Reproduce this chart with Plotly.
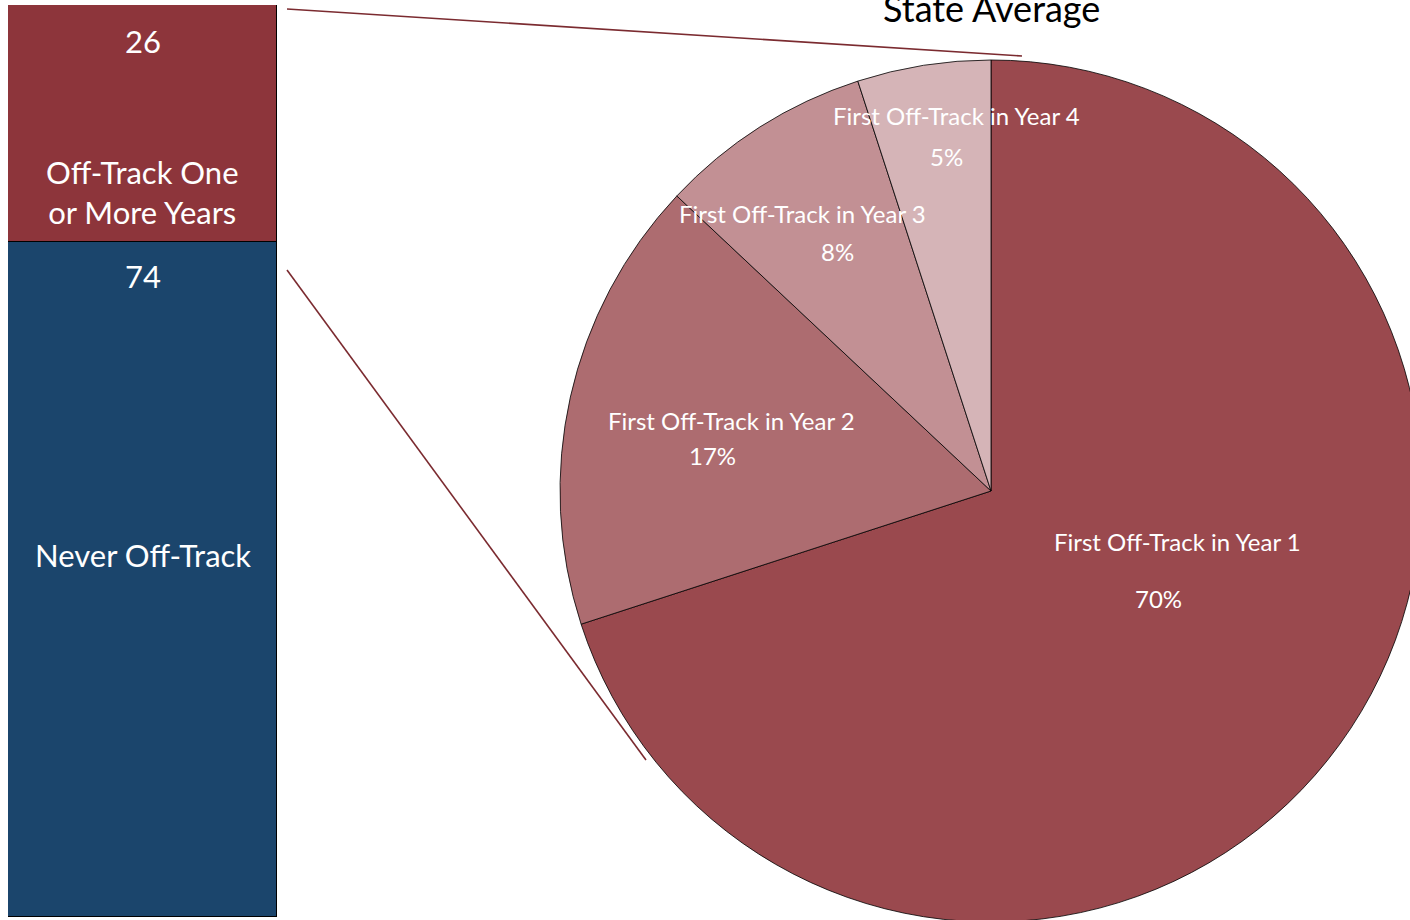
import plotly.graph_objects as go

# Share of students by off-track status (stacked bar, percent)
status_labels = ["Never Off-Track", "Off-Track One<br>or More Years"]
status_values = [74, 26]

# Breakdown of off-track students by first off-track year (pie, percent)
year_labels = ["First Off-Track in Year 1", "First Off-Track in Year 2",
               "First Off-Track in Year 3", "First Off-Track in Year 4"]
year_values = [70, 17, 8, 5]

W, H = 1422, 922
FONT = "Lato"


def px(x):
    return x / W


def py(y):
    return 1 - y / H


bar_colors = ["#1B456C", "#8D353B"]
pie_colors = ["#9A494E", "#AD6C70", "#C29094", "#D5B4B7"]

fig = go.Figure()

# Stacked bar
bar_top, bar_bottom = 5, 917
for lab, val, col in zip(status_labels, status_values, bar_colors):
    fig.add_trace(go.Bar(
        x=[0], y=[val], name=lab, marker=dict(color=col, line=dict(color="#000000", width=1)),
        xaxis="x", yaxis="y", hoverinfo="skip", showlegend=False,
    ))

# Pie of the off-track share
cx, cy, r = 991, 491, 431
fig.add_trace(go.Pie(
    labels=year_labels, values=year_values, sort=False, direction="clockwise",
    rotation=0, textinfo="none", hoverinfo="skip", showlegend=False,
    marker=dict(colors=pie_colors, line=dict(color="#000000", width=0.8)),
    domain=dict(x=[px(cx - r), px(cx + r)], y=[py(cy + r), py(cy - r)]),
))

annotations = []
white = dict(family=FONT, color="#FFFFFF")
centered = dict(xanchor="center", yanchor="middle", showarrow=False)

# Bar labels (positions in bar value units)
never, off = status_values
annotations += [
    dict(x=0, y=never + off - 4, xref="x", yref="y", text=str(off),
         font=dict(size=31, **white), **centered),
    dict(x=0, y=never + off / 2 - 7.5, xref="x", yref="y", text=status_labels[1],
         font=dict(size=31, **white), **centered),
    dict(x=0, y=never - 3.7, xref="x", yref="y", text=str(never),
         font=dict(size=31, **white), **centered),
    dict(x=0, y=never / 2 + 2.7, xref="x", yref="y", text=status_labels[0],
         font=dict(size=31, **white), **centered),
]

# Pie slice labels
label_pos = [((1177, 541), (1158, 598)),
             ((731, 420), (712, 455)),
             ((803, 213), (838, 251)),
             ((956, 115), (946, 157))]
for lab, val, (lp, vp) in zip(year_labels, year_values, label_pos):
    annotations.append(dict(x=px(lp[0]), y=py(lp[1]), xref="paper", yref="paper",
                            text=lab, font=dict(size=24, **white), **centered))
    annotations.append(dict(x=px(vp[0]), y=py(vp[1]), xref="paper", yref="paper",
                            text=f"{val}%", font=dict(size=24, **white), **centered))

# Title, partly above the top edge
annotations.append(dict(x=px(991), y=py(8), xref="paper", yref="paper",
                        text="State Average",
                        font=dict(family=FONT, size=36, color="#000000"), **centered))

line_col = "#7B2B30"
shapes = [
    dict(type="line", xref="paper", yref="paper", x0=px(287), y0=py(9), x1=px(1022), y1=py(56),
         line=dict(color=line_col, width=1.6)),
    dict(type="line", xref="paper", yref="paper", x0=px(287), y0=py(270), x1=px(646), y1=py(760),
         line=dict(color=line_col, width=1.6)),
]

fig.update_layout(
    width=W, height=H, margin=dict(l=0, r=0, t=0, b=0),
    paper_bgcolor="#FFFFFF", plot_bgcolor="#FFFFFF",
    barmode="stack", bargap=0,
    xaxis=dict(domain=[px(8), px(277)], range=[-0.5, 0.5], visible=False, fixedrange=True),
    yaxis=dict(domain=[py(bar_bottom), py(bar_top)], range=[0, 100], visible=False, fixedrange=True),
    annotations=annotations, shapes=shapes,
)

fig.write_html("out.html", config={"displayModeBar": False},
               post_script="document.body.style.margin='0';document.body.style.overflow='hidden';")
